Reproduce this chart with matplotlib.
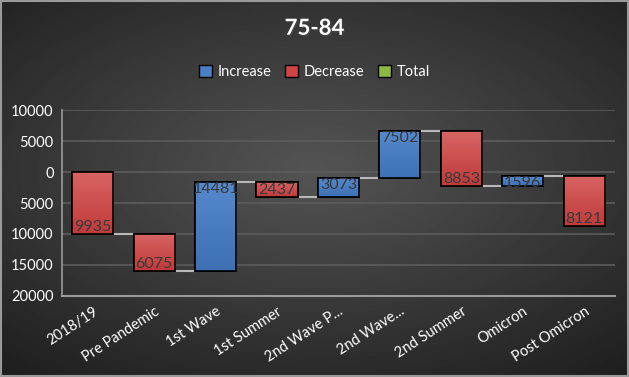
import numpy as np
import matplotlib.pyplot as plt
import matplotlib.patheffects as pe
from matplotlib.patches import Patch
from matplotlib.colors import LinearSegmentedColormap

plt.rcParams["font.family"] = ["Lato", "DejaVu Sans"]

categories = ["2018/19", "Pre Pandemic", "1st Wave", "1st Summer", "2nd Wave P...",
              "2nd Wave...", "2nd Summer", "Omicron", "Post Omicron"]
changes = [-9935, -6075, 14481, -2437, 3073, 7502, -8853, 1596, -8121]
yticks = [10000, 5000, 0, -5000, -10000, -15000, -20000]

INC = "#4a7fc4"
DEC = "#cf4545"
TOT = "#8cb843"

ends = np.cumsum(changes)
starts = ends - np.array(changes)

fig = plt.figure(figsize=(6.29, 3.77), dpi=100)

# background radial gradient
bg = fig.add_axes([0, 0, 1, 1])
yy, xx = np.mgrid[-1:1:300j, -1:1:500j]
r = np.sqrt((xx * 0.9) ** 2 + ((yy + 0.1) * 1.0) ** 2)
bg.imshow(0.33 - 0.15 * np.clip(r, 0, 1.4), cmap="gray", vmin=0, vmax=1,
          aspect="auto", extent=[0, 1, 0, 1])
bg.set_xlim(0, 1)
bg.set_ylim(0, 1)
bg.axis("off")
bg.add_patch(plt.Rectangle((0.001, 0.002), 0.997, 0.995, fill=False,
                           edgecolor="#9a9a9a", linewidth=1.5))

ax = fig.add_axes([0.0986, 0.215, 0.879, 0.493])
ax.patch.set_alpha(0)
x = np.arange(len(categories))
w = 0.67
colors = [INC if c > 0 else DEC for c in changes]
bars = ax.bar(x, changes, bottom=starts, width=w, color=colors, edgecolor="black",
              linewidth=1.2, zorder=3)

# vertical gradient fill, lighter at the top
grad = np.linspace(1, 0, 64).reshape(-1, 1)
cmaps = {INC: LinearSegmentedColormap.from_list("inc", ["#3f70b4", "#5588cc"]),
         DEC: LinearSegmentedColormap.from_list("dec", ["#c03a3a", "#d86464"])}
for b, col in zip(bars, colors):
    x0, y0 = b.get_x(), b.get_y()
    bw, bh = b.get_width(), b.get_height()
    lo, hi = min(y0, y0 + bh), max(y0, y0 + bh)
    im = ax.imshow(grad, cmap=cmaps[col], vmin=0, vmax=1, aspect="auto",
                   extent=[x0, x0 + bw, lo, hi], zorder=3.1)
    im.set_clip_path(b)
    ax.add_patch(plt.Rectangle((x0, lo), bw, hi - lo, fill=False,
                               edgecolor="black", linewidth=1.2, zorder=3.2))

# connectors
for i in range(len(categories) - 1):
    ax.plot([x[i] + w / 2, x[i + 1] - w / 2], [ends[i], ends[i]],
            color="#b8b8b8", linewidth=1.5, zorder=2)

# value labels inside the end of each bar
for i, c in enumerate(changes):
    va = "top" if c > 0 else "bottom"
    ax.text(x[i], ends[i], f"{abs(c)}", ha="center", va=va,
            color="#3a3a3a", fontsize=11.5, zorder=4)

ax.set_ylim(-20000, 10000)
ax.set_xlim(-0.5, len(categories) - 0.5)
ax.set_yticks(yticks)
ax.set_yticklabels([str(abs(t)) for t in yticks], color="white", fontsize=10.5)
ax.set_xticks(x)
ax.set_xticklabels(categories, rotation=33, ha="right", rotation_mode="anchor",
                   color="white", fontsize=10.5)
ax.tick_params(length=0, pad=6)
ax.grid(axis="y", color="#5c5c5c", linewidth=1.2, zorder=0)
for s in ["top", "right"]:
    ax.spines[s].set_visible(False)
ax.spines["left"].set_color("#9a9a9a")
ax.spines["bottom"].set_color("#9a9a9a")
ax.spines["left"].set_linewidth(1.2)
ax.spines["bottom"].set_linewidth(1.5)

fig.text(0.5, 0.925, "75-84", ha="center", va="center", color="white",
         fontsize=16, fontweight="bold",
         path_effects=[pe.withSimplePatchShadow(offset=(1, -1), alpha=0.6)])

handles = [Patch(facecolor=INC, edgecolor="black", label="Increase"),
           Patch(facecolor=DEC, edgecolor="black", label="Decrease"),
           Patch(facecolor=TOT, edgecolor="black", label="Total")]
leg = fig.legend(handles=handles, loc="center", bbox_to_anchor=(0.5, 0.808),
                 ncol=3, frameon=False, fontsize=10.5, labelcolor="white",
                 handlelength=0.9, handleheight=0.9, handletextpad=0.4,
                 columnspacing=0.9)

fig.savefig("out.png", dpi=100)
